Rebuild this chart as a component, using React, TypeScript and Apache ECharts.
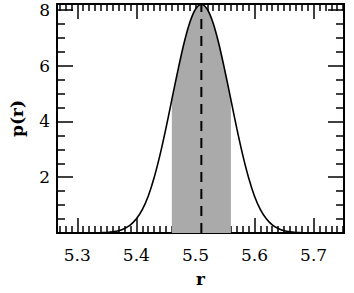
import React, { useEffect, useRef } from "react";
import * as echarts from "echarts";

// r grid (step 0.01) and p(r) values
const rVals = [
  5.27, 5.28, 5.29, 5.3, 5.31, 5.32, 5.33, 5.34, 5.35, 5.36,
  5.37, 5.38, 5.39, 5.4, 5.41, 5.42, 5.43, 5.44, 5.45, 5.46,
  5.47, 5.48, 5.49, 5.5, 5.51, 5.52, 5.53, 5.54, 5.55, 5.56,
  5.57, 5.58, 5.59, 5.6, 5.61, 5.62, 5.63, 5.64, 5.65, 5.66,
  5.67, 5.68, 5.69, 5.7, 5.71, 5.72, 5.73, 5.74, 5.75,
];
const pVals = [
  0, 0, 0, 0, 0, 0, 0, 0.01, 0.02, 0.04,
  0.08, 0.16, 0.29, 0.51, 0.84, 1.32, 1.98, 2.8, 3.75, 4.78,
  5.8, 6.75, 7.52, 8.02, 8.19, 8.02, 7.52, 6.75, 5.8, 4.78,
  3.75, 2.8, 1.98, 1.32, 0.84, 0.51, 0.29, 0.16, 0.08, 0.04,
  0.02, 0.01, 0, 0, 0, 0, 0, 0, 0,
];
const peakR = 5.51;
const peakP = 8.19;
const shadeLo = 5.46;
const shadeHi = 5.56;

const xMajor = [5.3, 5.4, 5.5, 5.6, 5.7];
const xMinor = [
  5.27, 5.28, 5.29, 5.31, 5.32, 5.33, 5.34, 5.35, 5.36, 5.37, 5.38, 5.39,
  5.41, 5.42, 5.43, 5.44, 5.45, 5.46, 5.47, 5.48, 5.49,
  5.51, 5.52, 5.53, 5.54, 5.55, 5.56, 5.57, 5.58, 5.59,
  5.61, 5.62, 5.63, 5.64, 5.65, 5.66, 5.67, 5.68, 5.69,
  5.71, 5.72, 5.73, 5.74, 5.75,
];
const yMajor = [2, 4, 6, 8];
const yMinor = [0.5, 1, 1.5, 2.5, 3, 3.5, 4.5, 5, 5.5, 6.5, 7, 7.5];

const X_MIN = 5.2656;
const X_MAX = 5.7515;
const Y_MIN = 0;
const Y_MAX = 8.21;

const FONT = "DejaVu Serif";

export default function App() {
  const ref = useRef<HTMLDivElement>(null);
  useEffect(() => {
    const chart = echarts.init(ref.current!, null, { renderer: "svg" });
    const curve = rVals.map((r, i) => [r, pVals[i]]);
    const shade = curve.filter((d) => d[0] >= shadeLo - 1e-9 && d[0] <= shadeHi + 1e-9);

    const baseX = (pos: "top" | "bottom", ticks: number[], len: number, labels: boolean, line: boolean) => ({
      type: "value",
      position: pos,
      min: X_MIN,
      max: X_MAX,
      gridIndex: 0,
      splitLine: { show: false },
      axisLine: { show: line, onZero: false, lineStyle: { color: "#000", width: 2 } },
      axisTick: { show: true, inside: true, length: len, customValues: ticks, lineStyle: { color: "#000", width: 1.5 } },
      axisLabel: labels
        ? {
            show: true,
            customValues: xMajor,
            formatter: (v: number) => v.toFixed(1),
            color: "#000",
            fontFamily: FONT,
            fontSize: 17,
            margin: 13,
          }
        : { show: false },
    });
    const baseY = (pos: "left" | "right", ticks: number[], len: number, labels: boolean, line: boolean) => ({
      type: "value",
      position: pos,
      min: Y_MIN,
      max: Y_MAX,
      gridIndex: 0,
      splitLine: { show: false },
      axisLine: { show: line, onZero: false, lineStyle: { color: "#000", width: 2 } },
      axisTick: { show: true, inside: true, length: len, customValues: ticks, lineStyle: { color: "#000", width: 1.5 } },
      axisLabel: labels
        ? {
            show: true,
            customValues: yMajor,
            formatter: (v: number) => String(v),
            color: "#000",
            fontFamily: FONT,
            fontSize: 17,
            margin: 7,
          }
        : { show: false },
    });

    const x0: any = baseX("bottom", xMajor, 15, true, true);
    x0.name = "r";
    x0.nameLocation = "middle";
    x0.nameGap = 37;
    x0.nameTextStyle = { color: "#000", fontFamily: FONT, fontSize: 17, fontWeight: "bold" };
    const y0: any = baseY("left", yMajor, 16, true, true);
    y0.name = "p(r)";
    y0.nameLocation = "middle";
    y0.nameGap = 32;
    y0.nameRotate = 90;
    y0.nameTextStyle = { color: "#000", fontFamily: FONT, fontSize: 17, fontWeight: "bold" };

    chart.setOption({
      animation: false,
      grid: { left: 57, top: 4, right: 10, bottom: 60, containLabel: false },
      xAxis: [
        x0,
        baseX("bottom", xMinor, 7, false, false),
        baseX("top", xMajor, 15, false, true),
        baseX("top", xMinor, 7, false, false),
      ],
      yAxis: [
        y0,
        baseY("left", yMinor, 8, false, false),
        baseY("right", yMajor, 16, false, true),
        baseY("right", yMinor, 8, false, false),
      ],
      series: [
        {
          type: "line",
          data: shade,
          smooth: 0.3,
          showSymbol: false,
          lineStyle: { width: 0 },
          areaStyle: { color: "#aaaaaa", opacity: 1 },
          z: 1,
        },
        {
          type: "line",
          data: [
            [peakR, 0],
            [peakR, peakP],
          ],
          showSymbol: false,
          lineStyle: { color: "#000", width: 2, type: [10, 7] },
          z: 2,
        },
        {
          type: "line",
          data: curve,
          smooth: 0.3,
          showSymbol: false,
          lineStyle: { color: "#000", width: 1.6 },
          z: 3,
        },
      ],
    });
    return () => chart.dispose();
  }, []);
  return (
    <div
      ref={ref}
      style={{ position: "fixed", left: 0, top: 0, width: 354, height: 293, background: "#fff" }}
    />
  );
}
